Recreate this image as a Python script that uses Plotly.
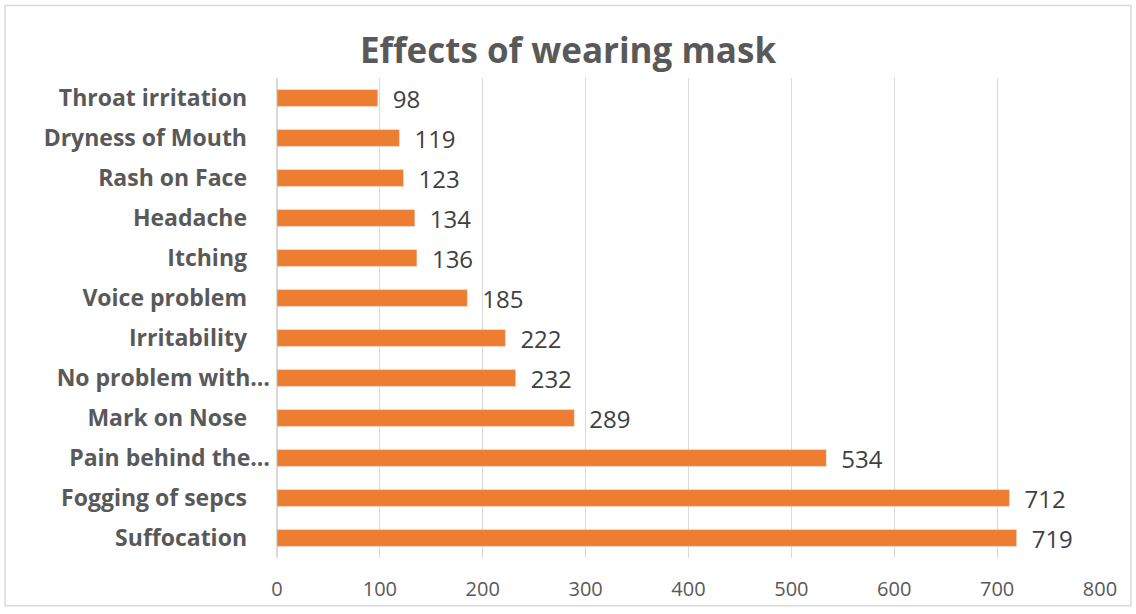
import plotly.graph_objects as go

categories = ["Suffocation", "Fogging of sepcs", "Pain behind the…", "Mark on Nose",
              "No problem with…", "Irritability", "Voice problem", "Itching",
              "Headache", "Rash on Face", "Dryness of Mouth", "Throat irritation"]
values = [719, 712, 534, 289, 232, 222, 185, 136, 134, 123, 119, 98]
x_ticks = [0, 100, 200, 300, 400, 500, 600, 700, 800]

W, H = 1136, 614
ml, mr, mt, mb = 277, 36, 78, 53
pw, ph = W - ml - mr, H - mt - mb
FONT = "Open Sans, Lato, sans-serif"

# Excel keeps a little trailing room after full labels; truncated ones run to the edge
tick_text = [c if c.endswith("…") else c + "\u2003" for c in categories]

fig = go.Figure(go.Bar(
    x=values, y=categories, orientation="h",
    marker=dict(color="#ED7D31"), width=0.42,
    text=["\u2002" + str(v) for v in values], textposition="outside", constraintext="none",
    textfont=dict(family=FONT, size=24, color="#404040"),
    cliponaxis=False,
))

def px_x(p):
    return (p - ml) / pw

def px_y(p):
    return (H - mb - p) / ph

fig.update_layout(
    width=W, height=H,
    margin=dict(l=ml, r=mr, t=mt, b=mb),
    paper_bgcolor="white", plot_bgcolor="white",
    title=dict(text="<b>Effects of wearing mask</b>", x=0.5, xanchor="center",
               y=1 - 51 / H, yanchor="middle",
               font=dict(family=FONT, size=35, color="#595959")),
    xaxis=dict(range=[0, 800], tickvals=x_ticks, showgrid=True, gridcolor="#D9D9D9",
               gridwidth=1, zeroline=True, zerolinecolor="#D9D9D9", showline=False,
               ticks="", ticklabelstandoff=17,
               tickfont=dict(family=FONT, size=20, color="#595959")),
    yaxis=dict(categoryorder="array", categoryarray=categories,
               tickvals=categories, ticktext=tick_text, showgrid=False,
               ticks="", ticklabelstandoff=6, range=[-0.5, 11.5],
               tickfont=dict(family=FONT, size=23, color="#595959", weight="bold")),
    showlegend=False,
    shapes=[dict(type="rect", xref="paper", yref="paper",
                 x0=px_x(5), x1=px_x(1131), y0=px_y(609), y1=px_y(5),
                 line=dict(color="#D9D9D9", width=1.5), fillcolor="rgba(0,0,0,0)", layer="below")],
)

fig.write_html("out.html")
